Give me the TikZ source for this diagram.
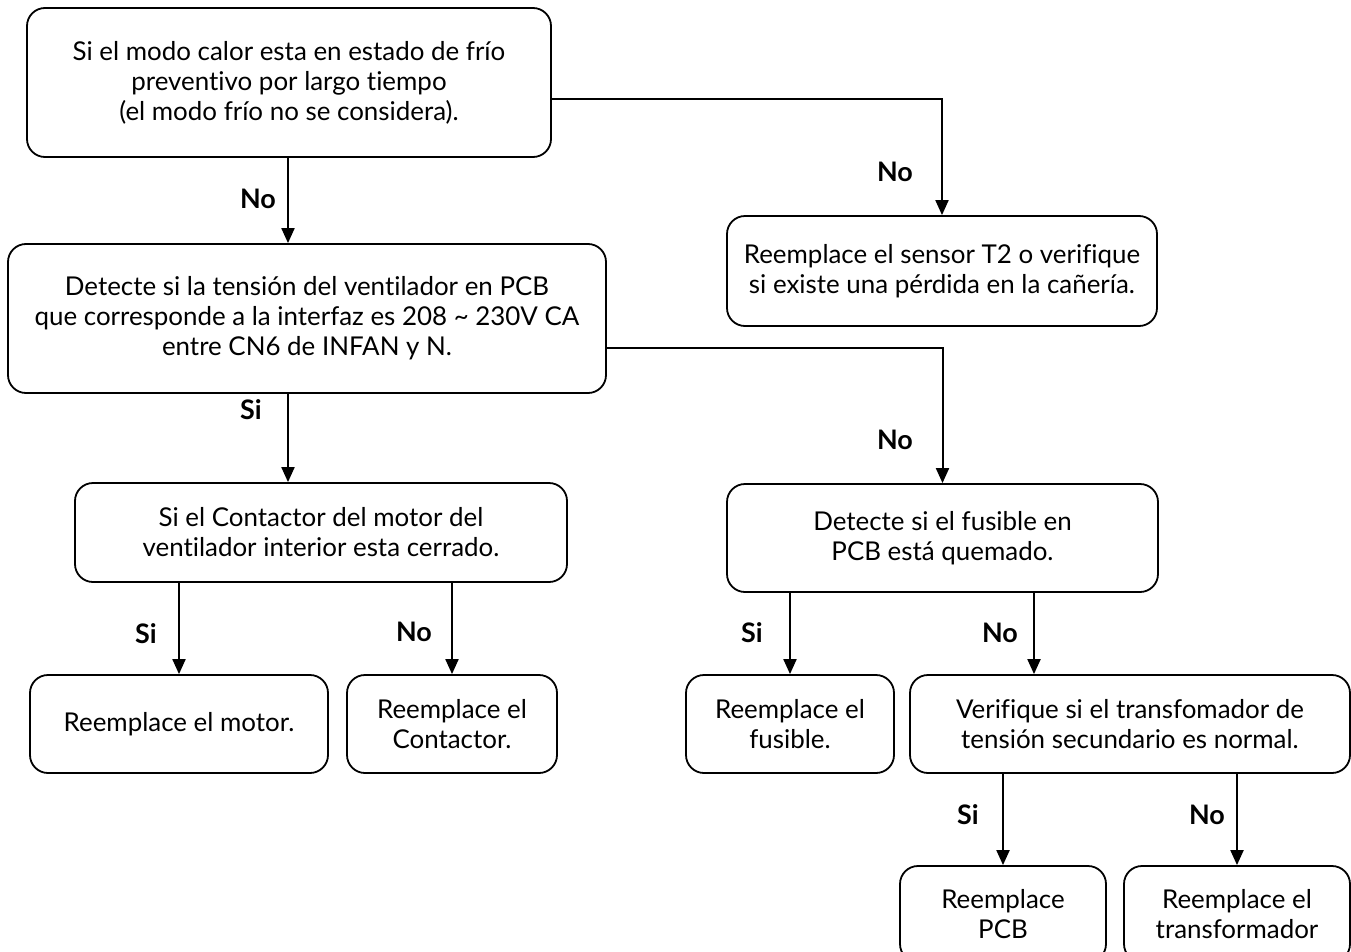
\documentclass[tikz,border=0pt]{standalone}
\usepackage{fontspec}
\setmainfont{Lato}[Ligatures=NoCommon]
\usepackage{tikz}
\usetikzlibrary{arrows.meta}

\begin{document}
\begin{tikzpicture}[
  box/.style={draw,line width=1.8bp,rounded corners=18bp,align=center,inner sep=0pt,
    font=\fontsize{26}{30}\selectfont},
  arr/.style={-{Triangle[length=15bp,width=13bp]},line width=2bp},
  ans/.style={font=\fontsize{27}{28}\bfseries}
]
\useasboundingbox (0bp,0bp) rectangle (1351bp,-952bp);

\node (A) at (289bp,-82.5bp)[box,minimum width=524bp,minimum height=149bp] {Si el modo calor esta en estado de frío\\ preventivo por largo tiempo\\ (el modo frío no se considera).};
\node (B) at (942bp,-271bp)[box,minimum width=430bp,minimum height=110bp] {Reemplace el sensor T2 o verifique\\ si existe una pérdida en la cañería.};
\node (C) at (307bp,-318.5bp)[box,minimum width=598bp,minimum height=149bp] {Detecte si la tensión del ventilador en PCB\\ que corresponde a la interfaz es 208 \~{} 230V CA\\ entre CN6 de INFAN y N.};
\node (D) at (321bp,-532.5bp)[box,minimum width=492bp,minimum height=99bp] {Si el Contactor del motor del\\ ventilador interior esta cerrado.};
\node (E) at (942.5bp,-538bp)[box,minimum width=431bp,minimum height=108bp] {Detecte si el fusible en\\ PCB está quemado.};
\node (F1) at (179bp,-724bp)[box,minimum width=298bp,minimum height=98bp] {Reemplace el motor.};
\node (F2) at (452bp,-724bp)[box,minimum width=210bp,minimum height=98bp] {Reemplace el\\ Contactor.};
\node (G1) at (790bp,-724bp)[box,minimum width=208bp,minimum height=98bp] {Reemplace el\\ fusible.};
\node (G2) at (1130bp,-724bp)[box,minimum width=440bp,minimum height=98bp] {Verifique si el transfomador de\\ tensión secundario es normal.};
\node (H1) at (1003bp,-914bp)[box,minimum width=206bp,minimum height=96bp] {Reemplace\\ PCB};
\node (H2) at (1237bp,-914bp)[box,minimum width=226bp,minimum height=96bp] {Reemplace el\\ transformador};

\draw [arr] (A.south -| 288bp,0) -- (C.north -| 288bp,0);
\draw [arr] ([yshift=-16.5bp]A.east) -| (B.north);
\draw [arr] (C.south -| 288bp,0) -- (D.north -| 288bp,0);
\draw [arr] ([yshift=-29.5bp]C.east) -| (E.north);
\draw [arr] (F1.north |- D.south) -- (F1.north);
\draw [arr] (F2.north |- D.south) -- (F2.north);
\draw [arr] (G1.north |- E.south) -- (G1.north);
\draw [arr] ([xshift=91.5bp]E.south) -- ([xshift=91.5bp]E.south |- G2.north);
\draw [arr] (H1.north |- G2.south) -- (H1.north);
\draw [arr] (H2.north |- G2.south) -- (H2.north);

\node (l1) at (258bp,-199bp)[ans] {No};
\node (l2) at (895bp,-172bp)[ans] {No};
\node (l3) at (251bp,-410bp)[ans] {Si};
\node (l4) at (895bp,-440bp)[ans] {No};
\node (l5) at (146bp,-634bp)[ans] {Si};
\node (l6) at (414bp,-632bp)[ans] {No};
\node (l7) at (752bp,-633bp)[ans] {Si};
\node (l8) at (1000bp,-633bp)[ans] {No};
\node (l9) at (968bp,-815bp)[ans] {Si};
\node (l10) at (1207bp,-815bp)[ans] {No};
\end{tikzpicture}
\end{document}
